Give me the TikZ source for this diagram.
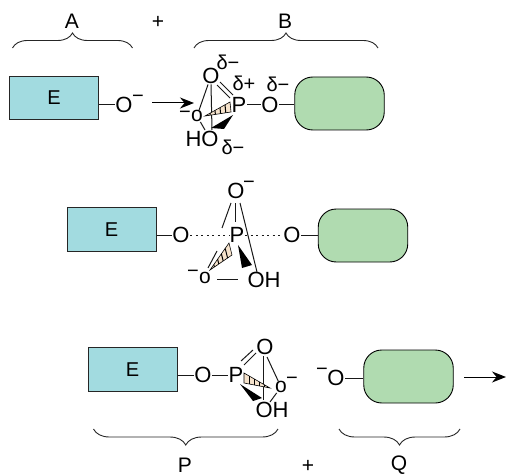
\documentclass[tikz,border=0pt]{standalone}
\usepackage{fontspec}
\setmainfont{Liberation Sans}
\usetikzlibrary{decorations.pathreplacing,arrows.meta,calc}
\newcommand{\hwedge}[3]{% wide end a,b ; tip c
  \filldraw[draw=black,fill=wedgefill,line width=0.6pt] #1 -- #2 -- #3 -- cycle;
  \foreach \t in {0.2,0.4,0.6,0.8}{
    \draw[line width=1pt] ($#1!\t!#3$) -- ($#2!\t!#3$);}
}
\definecolor{enzyme}{HTML}{A2DBE0}
\definecolor{sub}{HTML}{B0DBB0}
\definecolor{wedgefill}{HTML}{F6E3CC}
\tikzset{
  enzbox/.style={draw=black!85,fill=enzyme,line width=1pt,minimum width=89pt,minimum height=43.5pt,inner sep=0pt,font=\fontsize{20}{22}\selectfont},
  subbox/.style={draw=black,fill=sub,line width=0.9pt,rounded corners=18pt,minimum width=89.5pt,minimum height=53pt,inner sep=0pt},
  atom/.style={inner sep=0.5pt,font=\fontsize{22}{24}\selectfont},
  smallo/.style={inner sep=0pt,font=\fontsize{21}{22}\selectfont},
  chg/.style={inner sep=0pt,font=\fontsize{20}{22}\selectfont},
  lbl/.style={inner sep=0pt,font=\fontsize{21}{22}\selectfont},
  bond/.style={line width=1pt,black!90},
  arr/.style={line width=1pt,-{Stealth[length=14pt,width=11pt]}},
  brcT/.style={line width=0.9pt,black!85,decorate,decoration={brace,amplitude=15pt}},
  brcB/.style={line width=0.9pt,black!85,decorate,decoration={brace,amplitude=16pt}},
}
\begin{document}
\begin{tikzpicture}[x=1pt,y=-1pt]
\useasboundingbox (0,0) rectangle (506,476);
% labels and upper braces
\node[lbl] (lA) at (72,21) {A};
\node[lbl] (lplus1) at (158,22) {+};
\node[lbl] (lB) at (285,21) {B};
\draw[brcT] (12.5,48) -- (132.5,48);
\draw[brcT] (194,48) -- (378,48);
% ---- top row
\node[enzbox] (E1) at (54,98) {E};
\node[atom] (O1) at (124,104.5) {O};
\node[chg] (O1c) at (138,99) {−};
\node[subbox] (S1) at (339.5,103.5) {};
\draw[bond] (E1.east |- O1) -- (O1);
\coordinate (a1s) at (152,103);
\coordinate (a1e) at (194,103);
\draw[arr] (a1s) -- (a1e);
\node[atom] (O1t) at (211,76) {O};
\node[chg] (d1) at (228,62) {δ−};
\node[chg] (d2) at (244,83) {δ+};
\node[atom] (P1) at (239,105) {P};
\node[atom] (O1r) at (270,105) {O};
\node[chg] (d3) at (278,84) {δ−};
\node[atom] (HO1) at (202,139) {HO};
\node[chg] (d4) at (233,147) {δ−};
\node[smallo] (o1) at (197,116) {o};
\node[chg] (o1c) at (185,115) {−};
\draw[bond] (P1) -- (O1r);
\draw[bond] (O1r) -- (S1.west |- O1r);
\draw[bond] (O1t.south) -- (212,130);
\draw[bond] (O1t) -- (o1);
\draw[bond] (o1) -- (205,130);
\draw[bond] (220,82) -- (233,95);
\draw[bond] (217,85) -- (230,98);
\hwedge{(230,102)}{(231,112)}{(205,116)}
\fill (233,115) -- (211,128) -- (224,129) -- cycle;
% ---- middle row
\node[enzbox] (E2) at (111.5,229.5) {E};
\node[atom] (O2l) at (181,235) {O};
\node[atom] (P2) at (237,235) {P};
\node[atom] (O2r) at (292,235) {O};
\node[atom] (O2t) at (236,191) {O};
\node[chg] (O2c) at (249,185) {−};
\node[subbox] (S2) at (363,235.5) {};
\node[smallo] (o2) at (205,278) {o};
\node[chg] (o2c) at (193,274) {−};
\node[atom] (OH2) at (264,280) {OH};
\draw[bond] (E2.east |- O2l) -- (O2l);
\draw[bond,dash pattern=on 2pt off 3.5pt] (O2l) -- (P2);
\draw[bond,dash pattern=on 2pt off 3.5pt] (P2) -- (O2r);
\draw[bond] (O2r) -- ++(26,0);
\draw[bond] (231,203) -- (222,228);
\draw[bond] (235,203) -- (235,222);
\draw[bond] (240,203) -- (257,272);
\draw[bond] (217,251) -- (208,268);
\draw[bond] (217,279) -- (238,279);
\hwedge{(229,243)}{(232,255)}{(210,270)}
\fill (238,245) -- (242,268) -- (252,265) -- cycle;
% ---- bottom row
\node[enzbox] (E3) at (132.5,369.5) {E};
\node[atom] (O3l) at (203,375) {O};
\node[atom] (P3) at (236,375) {P};
\node[atom] (O3t) at (265,347) {O};
\node[smallo] (o3) at (281,387) {o};
\node[chg] (o3c) at (292,381) {−};
\node[atom] (OH3) at (272,410) {OH};
\node[atom] (O3r) at (336,378) {O};
\node[chg] (O3c) at (322,372) {−};
\node[subbox] (S3) at (408.5,376.5) {};
\draw[bond] (E3.east |- O3l) -- (O3l);
\draw[bond] (O3l) -- (P3);
\draw[bond] (244,365) -- (256,353);
\draw[bond] (241,361) -- (253,350);
\draw[bond] (267,357) -- (o3);
\draw[bond] (263,356) -- (263,400);
\draw[bond] (o3) -- (270,402);
\hwedge{(244,373)}{(244,383)}{(270,388)}
\fill (240,384) -- (253,401) -- (262,398) -- cycle;
\draw[bond] (O3r) -- (S3.west |- O3r);
\coordinate (a3s) at (464,377);
\coordinate (a3e) at (506,377);
\draw[arr] (a3s) -- (a3e);
% lower braces and labels
\draw[brcB] (278,429) -- (93.5,429);
\draw[brcB] (460,429) -- (339,429);
\node[lbl] (lP) at (185,465.5) {P};
\node[lbl] (lplus2) at (308,466) {+};
\node[lbl] (lQ) at (399,465.5) {Q};
\end{tikzpicture}
\end{document}
